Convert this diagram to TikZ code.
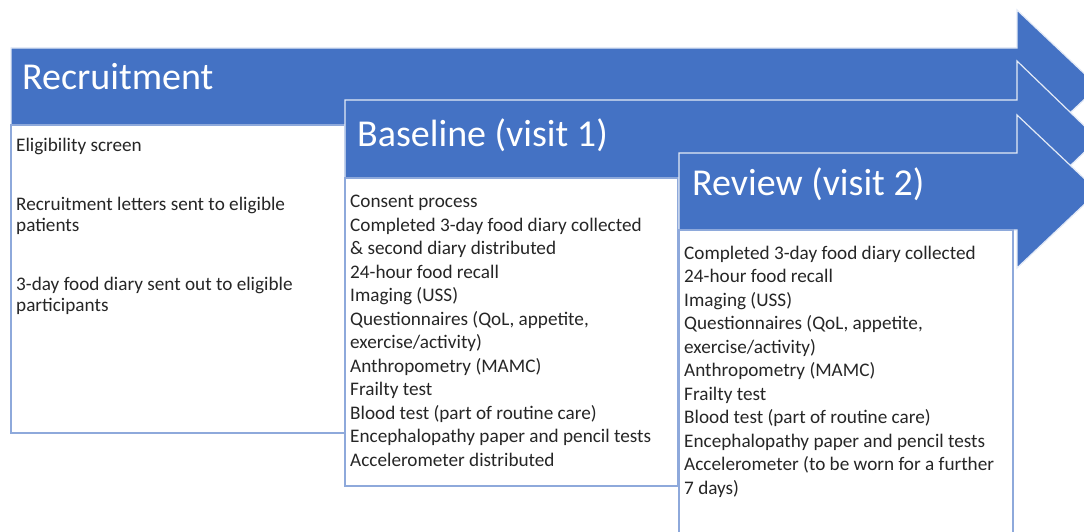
\documentclass[tikz,border=0pt]{standalone}
\usepackage{fontspec}
\setmainfont{Carlito}
\definecolor{arrowblue}{HTML}{4472C4}
\definecolor{boxline}{HTML}{8EA9DB}

\begin{document}
\begin{tikzpicture}[x=1pt, y=-1pt, line join=miter,
	arrow/.style={fill=arrowblue, draw=white!85!arrowblue, line width=1.2pt},
	panel/.style={fill=white, draw=boxline, line width=1.1pt},
	title/.style={anchor=base west, inner sep=0pt, text=white, font=\fontsize{38}{46}\selectfont},
	items/.style={anchor=base west, inner sep=0pt, align=left, text=black!85, font=\fontsize{19.2}{23.5}\selectfont}]
			\useasboundingbox (0,0) rectangle (1084,532);
			\clip (0,0) rectangle (1084,532);
			\coordinate (A) at (11,48);
			\coordinate (B) at (11,125);
			\coordinate (C) at (345,100);
			\coordinate (D) at (345,178);
			\coordinate (E) at (679,153);
			\coordinate (F) at (679,230);
			% recruitment
			\draw[arrow] (A)--(1017,48)--(1017,10)--(1098,86.5)--(1017,163)--(1017,125)--(B)--cycle;
			\draw[panel] (B) rectangle (345,433);
			% baseline
			\draw[arrow] (C)--(1017,100)--(1017,61)--(1098,139)--(1017,217)--(1017,178)--(D)--cycle;
			\draw[panel] (D) rectangle (678,486);
			% review
			\draw[arrow] (E)--(1017,153)--(1017,115)--(1098,191.5)--(1017,268)--(1017,230)--(F)--cycle;
			\draw[panel] (F) rectangle (1013,545);
			\node[title] (T1) at (22,90) {Recruitment};
			\node[title] (T2) at (357,146.5) {Baseline (visit 1)};
			\node[title] (T3) at (692,195.5) {Review (visit 2)};
			% item lists, placed by the baseline of their last line
			\node[items, font=\fontsize{19.2}{21}\selectfont] (L1) at (16,311) {Eligibility screen\\[38pt]
				Recruitment letters sent to eligible\\ patients\\[38pt]
				3-day food diary sent out to eligible\\ participants};
			\node[items] (L2) at (350,466) {Consent process\\ Completed 3-day food diary collected\\
				\& second diary distributed\\ 24-hour food recall\\ Imaging (USS)\\
				Questionnaires (QoL, appetite,\\ exercise/activity)\\ Anthropometry (MAMC)\\
				Frailty test\\ Blood test (part of routine care)\\ Encephalopathy paper and pencil tests\\
				Accelerometer distributed};
			\node[items] (L3) at (684,494) {Completed 3-day food diary collected\\ 24-hour food recall\\
				Imaging (USS)\\ Questionnaires (QoL, appetite,\\ exercise/activity)\\
				Anthropometry (MAMC)\\ Frailty test\\ Blood test (part of routine care)\\
				Encephalopathy paper and pencil tests\\ Accelerometer (to be worn for a further\\ 7 days)};
		\end{tikzpicture}
\end{document}
